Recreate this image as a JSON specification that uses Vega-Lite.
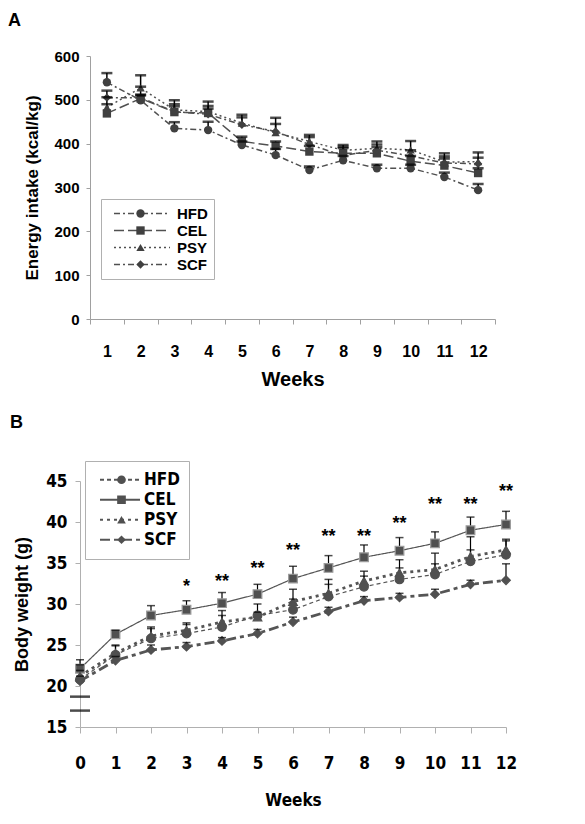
{
"$schema":"https://vega.github.io/schema/vega-lite/v6.json",
"padding":{"left":8,"top":12,"right":5,"bottom":5},
"bounds":"flush",
"spacing":162,
"resolve":{"scale":{"strokeDash":"independent","shape":"independent","stroke":"independent"},"legend":{"strokeDash":"independent","shape":"independent"}},
"config":{"view":{"stroke":null},"axis":{"grid":false,"labelFlush":false,"labelOverlap":false}},
"vconcat":[
{
"width":415,"height":263,
"title":{"text":"A","anchor":"start","frame":"group","dx":-72,"offset":19,"fontSize":18,"font":"Liberation Sans","fontWeight":"bold","color":"#000"},
"data":{"values":[
{"week":1,"group":"HFD","value":540,"err":561},{"week":1,"group":"CEL","value":469,"err":490},{"week":1,"group":"PSY","value":483,"err":506},{"week":1,"group":"SCF","value":505,"err":521},
{"week":2,"group":"HFD","value":499,"err":510},{"week":2,"group":"CEL","value":503,"err":512},{"week":2,"group":"PSY","value":527,"err":556},{"week":2,"group":"SCF","value":505,"err":530},
{"week":3,"group":"HFD","value":435,"err":449},{"week":3,"group":"CEL","value":472,"err":485},{"week":3,"group":"PSY","value":477,"err":499},{"week":3,"group":"SCF","value":473,"err":490},
{"week":4,"group":"HFD","value":431,"err":450},{"week":4,"group":"CEL","value":470,"err":480},{"week":4,"group":"PSY","value":473,"err":496},{"week":4,"group":"SCF","value":467,"err":486},
{"week":5,"group":"HFD","value":397,"err":405},{"week":5,"group":"CEL","value":405,"err":416},{"week":5,"group":"PSY","value":447,"err":466},{"week":5,"group":"SCF","value":443,"err":460},
{"week":6,"group":"HFD","value":374,"err":388},{"week":6,"group":"CEL","value":395,"err":405},{"week":6,"group":"PSY","value":425,"err":445},{"week":6,"group":"SCF","value":428,"err":459},
{"week":7,"group":"HFD","value":340,"err":348},{"week":7,"group":"CEL","value":382,"err":395},{"week":7,"group":"PSY","value":405,"err":420},{"week":7,"group":"SCF","value":398,"err":415},
{"week":8,"group":"HFD","value":362,"err":372},{"week":8,"group":"CEL","value":378,"err":393},{"week":8,"group":"PSY","value":385,"err":397},{"week":8,"group":"SCF","value":373,"err":390},
{"week":9,"group":"HFD","value":344,"err":352},{"week":9,"group":"CEL","value":378,"err":392},{"week":9,"group":"PSY","value":389,"err":405},{"week":9,"group":"SCF","value":385,"err":398},
{"week":10,"group":"HFD","value":344,"err":352},{"week":10,"group":"CEL","value":360,"err":372},{"week":10,"group":"PSY","value":386,"err":406},{"week":10,"group":"SCF","value":372,"err":385},
{"week":11,"group":"HFD","value":324,"err":334},{"week":11,"group":"CEL","value":350,"err":366},{"week":11,"group":"PSY","value":358,"err":378},{"week":11,"group":"SCF","value":356,"err":371},
{"week":12,"group":"HFD","value":294,"err":308},{"week":12,"group":"CEL","value":333,"err":344},{"week":12,"group":"PSY","value":359,"err":380},{"week":12,"group":"SCF","value":354,"err":368}
]},
"encoding":{
"x":{"field":"week","type":"ordinal","scale":{"type":"band","paddingInner":0,"paddingOuter":0,"range":[10,415]},
 "axis":{"title":"Weeks","labelAngle":0,"tickBand":"extent","domainColor":"#a0a0a0","tickColor":"#a0a0a0","tickSize":5,"labelPadding":19,"labelFont":"Liberation Sans","labelFontWeight":"bold","labelFontSize":16,"labelColor":"#000","titleFont":"Liberation Sans","titleFontSize":20,"titleFontWeight":"bold","titlePadding":10,"titleColor":"#000"}},
"y":{"field":"value","type":"quantitative","scale":{"domain":[0,600],"nice":false},
 "axis":{"title":"Energy intake (kcal/kg)","values":[0,100,200,300,400,500,600],"offset":-10,"domainColor":"#a0a0a0","tickColor":"#a0a0a0","tickSize":4,"labelPadding":7,"labelFont":"Liberation Sans","labelFontWeight":"bold","labelFontSize":15,"labelColor":"#000","titleFont":"Liberation Sans","titleFontSize":17,"titleFontWeight":"bold","titlePadding":12,"titleColor":"#000"}}
},
"layer":[
{"mark":{"type":"rule","color":"#000","strokeWidth":1.5},"encoding":{"y2":{"field":"err","title":"Energy intake (kcal/kg)"}}},
{"mark":{"type":"line","color":"#505050","strokeWidth":1.5},
 "encoding":{"strokeDash":{"field":"group","type":"nominal","sort":["HFD","CEL","PSY","SCF"],"scale":{"range":[[6,3,2,3],[10,4],[2,3],[6,3,2,3]]},
  "legend":{"title":null,"orient":"none","legendX":21,"legendY":143,"symbolType":"stroke","symbolSize":3136,"symbolStrokeWidth":1.5,"symbolStrokeColor":"#505050","symbolOffset":6,"clipHeight":17,"rowPadding":0,"padding":6,"strokeColor":"#b0b0b0","labelFont":"Liberation Sans","labelFontWeight":"bold","labelFontSize":15,"labelColor":"#000","labelOffset":6}}}},
{"mark":{"type":"point","filled":true,"size":70,"color":"#404040","opacity":1},
 "encoding":{"shape":{"field":"group","type":"nominal","scale":{"domain":["HFD","CEL","PSY","SCF"],"range":["circle","square","triangle-up","diamond"]},
  "legend":{"title":null,"orient":"none","legendX":21,"legendY":143,"symbolSize":70,"symbolFillColor":"#404040","symbolStrokeColor":"#404040","symbolStrokeWidth":0,"symbolOffset":26,"clipHeight":17,"rowPadding":0,"padding":6,"labelOpacity":0,"labelExpr":"''","labelFontSize":15}}}},
{"mark":{"type":"tick","orient":"horizontal","size":11,"thickness":2.5,"color":"#000"},"encoding":{"y":{"field":"err","type":"quantitative","title":"Energy intake (kcal/kg)"}}}
]
},
{
"width":426,"height":246,
"title":{"text":"B","anchor":"start","frame":"group","dx":-70,"offset":29,"fontSize":18,"font":"Liberation Sans","fontWeight":"bold","color":"#000"},
"data":{"values":[
{"week":0,"group":"HFD","value":20.8,"err":22.6},{"week":0,"group":"CEL","value":22.1,"err":23.2},{"week":0,"group":"PSY","value":21.2,"err":21.9},{"week":0,"group":"SCF","value":20.6,"err":21.2},
{"week":1,"group":"HFD","value":23.8,"err":24.9},{"week":1,"group":"CEL","value":26.3,"err":26.8},{"week":1,"group":"PSY","value":24.0,"err":25.0},{"week":1,"group":"SCF","value":23.1,"err":23.6},
{"week":2,"group":"HFD","value":25.8,"err":27.2},{"week":2,"group":"CEL","value":28.6,"err":29.8},{"week":2,"group":"PSY","value":26.1,"err":27.0},{"week":2,"group":"SCF","value":24.4,"err":25.0},
{"week":3,"group":"HFD","value":26.4,"err":27.7},{"week":3,"group":"CEL","value":29.3,"err":30.4},{"week":3,"group":"PSY","value":26.8,"err":27.5},{"week":3,"group":"SCF","value":24.8,"err":25.3},
{"week":4,"group":"HFD","value":27.2,"err":29.2},{"week":4,"group":"CEL","value":30.1,"err":31.4},{"week":4,"group":"PSY","value":27.8,"err":28.6},{"week":4,"group":"SCF","value":25.5,"err":25.9},
{"week":5,"group":"HFD","value":28.6,"err":30.0},{"week":5,"group":"CEL","value":31.2,"err":32.4},{"week":5,"group":"PSY","value":28.4,"err":29.0},{"week":5,"group":"SCF","value":26.4,"err":26.9},
{"week":6,"group":"HFD","value":29.3,"err":30.6},{"week":6,"group":"CEL","value":33.1,"err":34.6},{"week":6,"group":"PSY","value":30.3,"err":31.8},{"week":6,"group":"SCF","value":27.8,"err":28.4},
{"week":7,"group":"HFD","value":30.9,"err":32.4},{"week":7,"group":"CEL","value":34.4,"err":35.9},{"week":7,"group":"PSY","value":31.3,"err":33.0},{"week":7,"group":"SCF","value":29.1,"err":29.6},
{"week":8,"group":"HFD","value":32.1,"err":33.4},{"week":8,"group":"CEL","value":35.7,"err":37.2},{"week":8,"group":"PSY","value":32.8,"err":34.0},{"week":8,"group":"SCF","value":30.4,"err":30.9},
{"week":9,"group":"HFD","value":33.0,"err":34.4},{"week":9,"group":"CEL","value":36.5,"err":38.1},{"week":9,"group":"PSY","value":33.8,"err":35.4},{"week":9,"group":"SCF","value":30.8,"err":31.3},
{"week":10,"group":"HFD","value":33.6,"err":34.9},{"week":10,"group":"CEL","value":37.4,"err":38.8},{"week":10,"group":"PSY","value":34.2,"err":36.2},{"week":10,"group":"SCF","value":31.2,"err":31.8},
{"week":11,"group":"HFD","value":35.2,"err":36.6},{"week":11,"group":"CEL","value":39.0,"err":40.6},{"week":11,"group":"PSY","value":35.8,"err":38.2},{"week":11,"group":"SCF","value":32.4,"err":32.9},
{"week":12,"group":"HFD","value":36.0,"err":37.7},{"week":12,"group":"CEL","value":39.7,"err":41.3},{"week":12,"group":"PSY","value":36.6,"err":37.9},{"week":12,"group":"SCF","value":32.9,"err":34.9}
]},
"encoding":{
"x":{"field":"week","type":"quantitative","scale":{"domain":[0,12],"nice":false,"zero":false},
 "axis":{"title":"Weeks","values":[0,1,2,3,4,5,6,7,8,9,10,11,12],"domainColor":"#b0b0b0","tickColor":"#b0b0b0","tickSize":6,"labelPadding":22,"labelFont":"DejaVu Sans Condensed","labelFontWeight":"bold","labelFontSize":17,"labelColor":"#000","titleFont":"DejaVu Sans Condensed","titleFontSize":17,"titleFontWeight":"bold","titlePadding":21,"titleColor":"#000"}},
"y":{"field":"value","type":"quantitative","scale":{"domain":[15,45],"nice":false,"zero":false},
 "axis":{"title":"Body weight (g)","values":[15,20,25,30,35,40,45],"domainColor":"#b0b0b0","tickColor":"#b0b0b0","tickSize":5,"labelPadding":8,"labelFont":"DejaVu Sans Condensed","labelFontWeight":"bold","labelFontSize":17,"labelColor":"#000","titleFont":"Liberation Sans","titleFontSize":18,"titleFontWeight":"bold","titlePadding":14,"titleColor":"#000"}}
},
"layer":[
{"mark":{"type":"rule","color":"#000","strokeWidth":1.2},"encoding":{"y2":{"field":"err","title":"Body weight (g)"}}},
{"transform":[{"filter":{"field":"group","oneOf":["HFD","CEL"]}}],
 "mark":{"type":"line","color":"#555555","strokeWidth":1.2},
 "encoding":{"strokeDash":{"field":"group","type":"nominal","sort":["HFD","CEL","PSY","SCF"],"scale":{"range":[[4,3],[1,0],[3,4],[10,4,4,4]]},
  "legend":{"title":null,"orient":"none","legendX":5,"legendY":-20,"symbolType":"stroke","symbolSize":1600,"symbolStrokeWidth":2,"symbolStrokeColor":"#555555","symbolOffset":5,"clipHeight":19.5,"rowPadding":0,"padding":9,"strokeColor":"#b0b0b0","labelFont":"DejaVu Sans Condensed","labelFontWeight":"bold","labelFontSize":17,"labelColor":"#000","labelOffset":3}}}},
{"transform":[{"filter":{"field":"group","oneOf":["PSY","SCF"]}}],
 "mark":{"type":"line","color":"#555555","strokeWidth":2.8},
 "encoding":{"strokeDash":{"field":"group","type":"nominal","sort":["HFD","CEL","PSY","SCF"]}}},
{"mark":{"type":"point","filled":true,"size":75,"fill":"#505050","opacity":1,"strokeWidth":1.2},
 "encoding":{"shape":{"field":"group","type":"nominal","scale":{"domain":["HFD","CEL","PSY","SCF"],"range":["circle","square","triangle-up","diamond"]},
  "legend":{"title":null,"orient":"none","legendX":5,"legendY":-20,"symbolSize":75,"symbolFillColor":"#505050","symbolStrokeColor":"#505050","symbolStrokeWidth":0,"symbolOffset":19,"clipHeight":19.5,"rowPadding":0,"padding":9,"labelOpacity":0,"labelExpr":"''","labelFontSize":17}},
  "stroke":{"field":"group","type":"nominal","scale":{"domain":["HFD","CEL","PSY","SCF"],"range":["#505050","#9a9a9a","#505050","#505050"]},"legend":null}}},
{"mark":{"type":"tick","orient":"horizontal","size":8,"thickness":1.5,"color":"#000"},"encoding":{"y":{"field":"err","type":"quantitative","title":"Body weight (g)"}}},
{"data":{"values":[
{"week":3,"pos":32.6,"label":"*"},{"week":4,"pos":33.2,"label":"**"},{"week":5,"pos":34.8,"label":"**"},{"week":6,"pos":37.0,"label":"**"},{"week":7,"pos":38.7,"label":"**"},{"week":8,"pos":38.7,"label":"**"},{"week":9,"pos":40.3,"label":"**"},{"week":10,"pos":42.6,"label":"**"},{"week":11,"pos":42.6,"label":"**"},{"week":12,"pos":44.2,"label":"**"}
]},
 "mark":{"type":"text","font":"Liberation Sans","fontWeight":"bold","fontSize":18,"color":"#000","baseline":"middle","dy":4},
 "encoding":{"y":{"field":"pos","type":"quantitative","title":"Body weight (g)"},"text":{"field":"label"}}},
{"data":{"values":[{"week":0,"pos":18.7},{"week":0,"pos":17.0}]},
 "mark":{"type":"tick","orient":"horizontal","size":20,"thickness":2.5,"color":"#000"},
 "encoding":{"y":{"field":"pos","type":"quantitative","title":"Body weight (g)"}}}
]
}
]
}
